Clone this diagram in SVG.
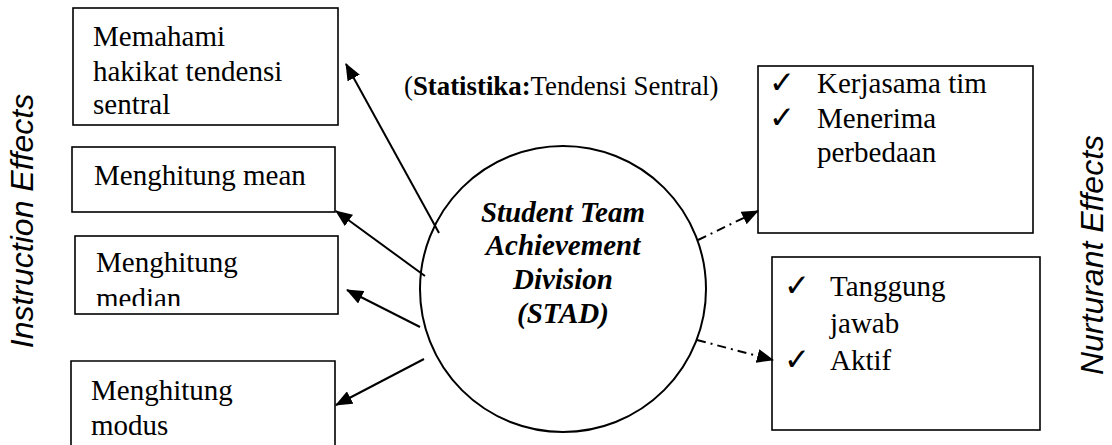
<svg xmlns="http://www.w3.org/2000/svg" width="1112" height="445" viewBox="0 0 1112 445">
<style>
.box{fill:#fff;stroke:#000;stroke-width:1.6}
.t{font-family:"Liberation Serif","Times New Roman",serif;font-size:29px;fill:#000}
.c{font-family:"Liberation Serif","Times New Roman",serif;font-size:29px;font-weight:bold;font-style:italic;fill:#000;text-anchor:middle}
.chk{font-family:"DejaVu Sans",sans-serif;font-size:31px;fill:#000}
.side{font-family:"Liberation Sans",Arial,sans-serif;font-size:32px;font-style:italic;fill:#000;text-anchor:middle}
.arr{stroke:#000;stroke-width:2;fill:none;marker-end:url(#ah)}
.dash{stroke:#000;stroke-width:2;fill:none;stroke-dasharray:9,5,2,5;marker-end:url(#ah)}
</style>
<defs>
<marker id="ah" markerUnits="userSpaceOnUse" markerWidth="17" markerHeight="14" refX="16" refY="7" orient="auto">
<path d="M0,0 L17,7 L0,14 z" fill="#000"/>
</marker>
<clipPath id="clipMedian"><rect x="75" y="236" width="263" height="70"/></clipPath>
</defs>
<rect width="1112" height="445" fill="#fff"/>

<g id="label-instruction">
<text class="side" transform="translate(33,221) rotate(-90)">Instruction Effects</text>
</g>
<g id="label-nurturant">
<text class="side" transform="translate(1103,255) rotate(-90)">Nurturant Effects</text>
</g>

<g id="node-memahami">
<rect class="box" x="73" y="8" width="265" height="117"/>
<text class="t" x="93" y="46">Memahami</text>
<text class="t" x="93" y="81">hakikat tendensi</text>
<text class="t" x="93" y="114">sentral</text>
</g>

<g id="node-mean">
<rect class="box" x="72" y="147" width="263" height="65"/>
<text class="t" x="94" y="185">Menghitung mean</text>
</g>

<g id="node-median">
<rect class="box" x="75" y="236" width="263" height="78"/>
<g clip-path="url(#clipMedian)">
<text class="t" x="96" y="272">Menghitung</text>
<text class="t" x="96" y="308">median</text>
</g>
</g>

<g id="node-modus">
<path class="box" d="M71,446 L71,361 L335,361 L335,446"/>
<text class="t" x="91" y="400">Menghitung</text>
<text class="t" x="91" y="435">modus</text>
</g>

<g id="title">
<text class="t" x="404" y="95" style="font-size:26.8px">(<tspan font-weight="bold">Statistika:</tspan>Tendensi Sentral)</text>
</g>

<g id="node-stad">
<ellipse cx="563" cy="289" rx="143" ry="143" fill="#fff" stroke="#000" stroke-width="2"/>
<text class="c" x="563" y="222">Student Team</text>
<text class="c" x="563" y="255">Achievement</text>
<text class="c" x="563" y="289">Division</text>
<text class="c" x="563" y="323">(STAD)</text>
</g>

<g id="node-kerjasama">
<rect class="box" x="758" y="66" width="275" height="167"/>
<text class="chk" x="769" y="93">✓</text>
<text class="t" x="817" y="93">Kerjasama tim</text>
<text class="chk" x="769" y="128">✓</text>
<text class="t" x="817" y="128">Menerima</text>
<text class="t" x="817" y="162">perbedaan</text>
</g>

<g id="node-tanggung">
<rect class="box" x="772" y="257" width="268" height="173"/>
<text class="chk" x="784" y="296">✓</text>
<text class="t" x="830" y="296">Tanggung</text>
<text class="t" x="830" y="333">jawab</text>
<text class="chk" x="784" y="370">✓</text>
<text class="t" x="830" y="370">Aktif</text>
</g>

<g id="connectors">
<line class="arr" x1="439" y1="233" x2="346" y2="64"/>
<line class="arr" x1="425" y1="276" x2="336" y2="211"/>
<line class="arr" x1="420" y1="327" x2="347" y2="290"/>
<line class="arr" x1="424" y1="359" x2="336" y2="405"/>
<line class="dash" x1="698" y1="240" x2="758" y2="211"/>
<line class="dash" x1="697" y1="340" x2="773" y2="360"/>
</g>
</svg>
